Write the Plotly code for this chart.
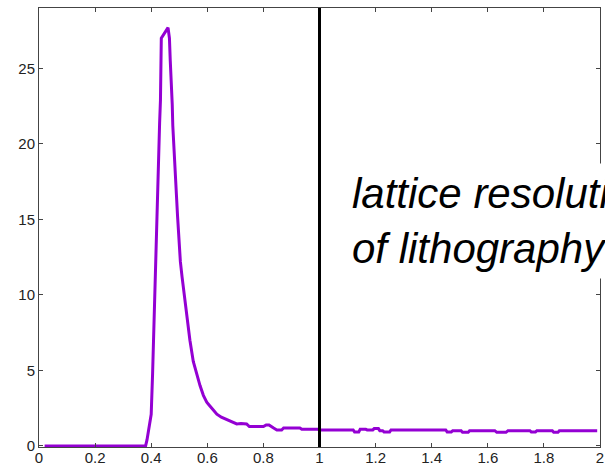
import plotly.graph_objects as go

# Distribution of feature size (histogram outline)
size_x = [0.02, 0.38, 0.385, 0.39, 0.395, 0.40, 0.405, 0.41, 0.415, 0.42, 0.425, 0.43,
          0.433, 0.436, 0.46, 0.465, 0.468, 0.472, 0.475, 0.477, 0.48, 0.484, 0.49,
          0.494, 0.497, 0.50, 0.504, 0.51, 0.515, 0.521, 0.527, 0.538, 0.55, 0.562,
          0.574, 0.586, 0.598, 0.607, 0.616, 0.634, 0.65, 0.669, 0.69, 0.705, 0.72,
          0.74, 0.75, 0.80, 0.81, 0.82, 0.835, 0.848, 0.865, 0.872, 0.93, 0.937,
          0.995, 1.0, 1.12, 1.125, 1.14, 1.145, 1.165, 1.17, 1.19, 1.195, 1.21,
          1.215, 1.225, 1.23, 1.25, 1.255, 1.45, 1.455, 1.47, 1.475, 1.505, 1.51,
          1.53, 1.535, 1.625, 1.632, 1.665, 1.672, 1.75, 1.755, 1.77, 1.775, 1.83,
          1.835, 1.85, 1.855, 1.99]
density_y = [0, 0, 0.4, 0.9, 1.5, 2.1, 4.8, 8.4, 10.9, 14.6, 18.3, 21.4,
             22.9, 27.0, 27.7, 27.0, 25.5, 24.1, 22.6, 21.2, 19.9, 18.6, 16.6,
             15.2, 14.0, 13.0, 12.2, 11.2, 10.4, 9.7, 8.9, 7.0, 5.6, 4.7,
             4.0, 3.35, 2.9, 2.7, 2.5, 2.1, 1.9, 1.75, 1.55, 1.46, 1.48,
             1.46, 1.28, 1.28, 1.39, 1.39, 1.2, 1.06, 1.06, 1.19, 1.19, 1.1,
             1.1, 1.06, 1.06, 0.93, 0.93, 1.1, 1.1, 1.06, 1.06, 1.15, 1.15,
             1.01, 1.01, 0.93, 0.93, 1.06, 1.06, 0.93, 0.93, 1.01, 1.01, 0.9,
             0.9, 1.01, 1.01, 0.9, 0.9, 1.01, 1.01, 0.93, 0.93, 1.01, 1.01,
             0.9, 0.9, 1.01, 1.01]

x_ticks = [0, 0.2, 0.4, 0.6, 0.8, 1, 1.2, 1.4, 1.6, 1.8, 2]
x_tick_text = ["0", "0.2", "0.4", "0.6", "0.8", "1", "1.2", "1.4", "1.6", "1.8", "2"]
y_ticks = [0, 5, 10, 15, 20, 25]

resolution_x = 1.0
label_text = "<i>lattice resolution<br>of lithography</i>"
label_pos = (1.09, 14.9)

fig = go.Figure()
fig.add_trace(go.Scatter(x=size_x, y=density_y, mode="lines",
                         line=dict(color="#9400D3", width=3), showlegend=False))

fig.add_vline(x=resolution_x, line=dict(color="black", width=3))

fig.add_annotation(x=label_pos[0], y=label_pos[1], xref="x", yref="y",
                   text=label_text, showarrow=False, xanchor="left", yanchor="middle",
                   align="left", bgcolor="white", borderpad=6,
                   font=dict(family="Liberation Sans", size=42, color="black"))

axis_common = dict(showgrid=False, zeroline=False, showline=True, linecolor="#444",
                   linewidth=1, mirror="ticks", ticks="inside", ticklen=4,
                   tickcolor="#444", automargin=False,
                   tickfont=dict(family="Liberation Sans", size=15, color="#222"))

fig.update_xaxes(range=[0, 2], tickvals=x_ticks, ticktext=x_tick_text,
                 ticklabelstandoff=-3, **axis_common)
fig.update_yaxes(range=[-0.07, 29], tickvals=y_ticks, **axis_common)

fig.update_layout(width=605, height=466, margin=dict(l=39, r=5, t=8, b=19),
                  plot_bgcolor="white", paper_bgcolor="white")

fig.write_html("out.html")
